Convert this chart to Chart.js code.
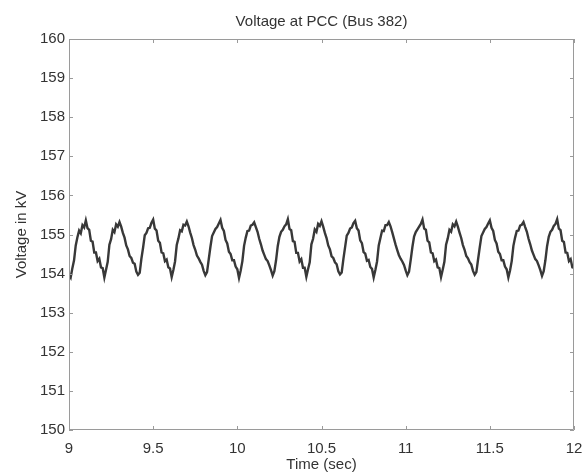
<!DOCTYPE html>
<html>
<head>
<meta charset="utf-8">
<script src="https://cdn.jsdelivr.net/npm/chart.js@4.4.1/dist/chart.umd.min.js"></script>
<style>
  html, body { margin: 0; padding: 0; background: #fff; }
  canvas { display: block; }
</style>
</head>
<body>
<canvas id="voltChart" width="583" height="472"></canvas>
<script>
const chartTitle = "Voltage at PCC (Bus 382)";
const xTitle = "Time (sec)";
const yTitle = "Voltage in kV";
const xTicks = [9, 9.5, 10, 10.5, 11, 11.5, 12];
const yTicks = [150, 151, 152, 153, 154, 155, 156, 157, 158, 159, 160];

// time in seconds, one row per cycle (peak to peak)
const time = [
  9.00, 9.01, 9.02, 9.03, 9.04, 9.05, 9.06, 9.07, 9.08, 9.09,
  9.10, 9.11, 9.12, 9.13, 9.14, 9.15, 9.16, 9.17, 9.18, 9.19, 9.20, 9.21, 9.22, 9.23, 9.24, 9.25, 9.26, 9.27, 9.28, 9.29,
  9.30, 9.31, 9.32, 9.33, 9.34, 9.35, 9.36, 9.37, 9.38, 9.39, 9.40, 9.41, 9.42, 9.43, 9.44, 9.45, 9.46, 9.47, 9.48, 9.49,
  9.50, 9.51, 9.52, 9.53, 9.54, 9.55, 9.56, 9.57, 9.58, 9.59, 9.60, 9.61, 9.62, 9.63, 9.64, 9.65, 9.66, 9.67, 9.68, 9.69,
  9.70, 9.71, 9.72, 9.73, 9.74, 9.75, 9.76, 9.77, 9.78, 9.79, 9.80, 9.81, 9.82, 9.83, 9.84, 9.85, 9.86, 9.87, 9.88, 9.89,
  9.90, 9.91, 9.92, 9.93, 9.94, 9.95, 9.96, 9.97, 9.98, 9.99, 10.00, 10.01, 10.02, 10.03, 10.04, 10.05, 10.06, 10.07, 10.08, 10.09,
  10.10, 10.11, 10.12, 10.13, 10.14, 10.15, 10.16, 10.17, 10.18, 10.19, 10.20, 10.21, 10.22, 10.23, 10.24, 10.25, 10.26, 10.27, 10.28, 10.29,
  10.30, 10.31, 10.32, 10.33, 10.34, 10.35, 10.36, 10.37, 10.38, 10.39, 10.40, 10.41, 10.42, 10.43, 10.44, 10.45, 10.46, 10.47, 10.48, 10.49,
  10.50, 10.51, 10.52, 10.53, 10.54, 10.55, 10.56, 10.57, 10.58, 10.59, 10.60, 10.61, 10.62, 10.63, 10.64, 10.65, 10.66, 10.67, 10.68, 10.69,
  10.70, 10.71, 10.72, 10.73, 10.74, 10.75, 10.76, 10.77, 10.78, 10.79, 10.80, 10.81, 10.82, 10.83, 10.84, 10.85, 10.86, 10.87, 10.88, 10.89,
  10.90, 10.91, 10.92, 10.93, 10.94, 10.95, 10.96, 10.97, 10.98, 10.99, 11.00, 11.01, 11.02, 11.03, 11.04, 11.05, 11.06, 11.07, 11.08, 11.09,
  11.10, 11.11, 11.12, 11.13, 11.14, 11.15, 11.16, 11.17, 11.18, 11.19, 11.20, 11.21, 11.22, 11.23, 11.24, 11.25, 11.26, 11.27, 11.28, 11.29,
  11.30, 11.31, 11.32, 11.33, 11.34, 11.35, 11.36, 11.37, 11.38, 11.39, 11.40, 11.41, 11.42, 11.43, 11.44, 11.45, 11.46, 11.47, 11.48, 11.49,
  11.50, 11.51, 11.52, 11.53, 11.54, 11.55, 11.56, 11.57, 11.58, 11.59, 11.60, 11.61, 11.62, 11.63, 11.64, 11.65, 11.66, 11.67, 11.68, 11.69,
  11.70, 11.71, 11.72, 11.73, 11.74, 11.75, 11.76, 11.77, 11.78, 11.79, 11.80, 11.81, 11.82, 11.83, 11.84, 11.85, 11.86, 11.87, 11.88, 11.89,
  11.90, 11.91, 11.92, 11.93, 11.94, 11.95, 11.96, 11.97, 11.98, 11.99, 12.00
];

// voltage in kV
const voltage = [
  153.98, 153.90, 154.14, 154.34, 154.72, 154.93, 155.10, 155.03, 155.24, 155.18,
  155.36, 155.16, 155.12, 154.84, 154.82, 154.54, 154.54, 154.32, 154.38, 154.16, 154.14, 153.90, 154.10, 154.30, 154.74, 154.88, 155.12, 155.06, 155.26, 155.20,
  155.32, 155.20, 155.04, 154.92, 154.72, 154.62, 154.45, 154.40, 154.28, 154.25, 154.05, 153.97, 154.02, 154.38, 154.66, 154.98, 155.04, 155.16, 155.17, 155.30,
  155.38, 155.15, 155.10, 154.84, 154.79, 154.54, 154.52, 154.32, 154.36, 154.16, 154.13, 153.91, 154.09, 154.31, 154.73, 154.90, 155.11, 155.08, 155.25, 155.23,
  155.33, 155.21, 155.05, 154.91, 154.73, 154.61, 154.46, 154.39, 154.30, 154.23, 154.07, 153.96, 154.04, 154.36, 154.68, 154.96, 155.05, 155.14, 155.19, 155.28,
  155.37, 155.17, 155.09, 154.86, 154.77, 154.56, 154.50, 154.34, 154.34, 154.18, 154.11, 153.89, 154.08, 154.32, 154.71, 154.92, 155.09, 155.10, 155.23, 155.25,
  155.31, 155.19, 155.07, 154.89, 154.75, 154.59, 154.48, 154.37, 154.32, 154.21, 154.09, 153.95, 154.06, 154.34, 154.70, 154.94, 155.07, 155.12, 155.21, 155.26,
  155.39, 155.14, 155.11, 154.83, 154.81, 154.53, 154.53, 154.31, 154.37, 154.15, 154.15, 153.92, 154.11, 154.29, 154.75, 154.89, 155.13, 155.07, 155.27, 155.22,
  155.34, 155.20, 155.04, 154.91, 154.72, 154.62, 154.44, 154.40, 154.29, 154.24, 154.06, 153.98, 154.03, 154.37, 154.67, 154.97, 155.04, 155.15, 155.18, 155.29,
  155.35, 155.16, 155.10, 154.85, 154.78, 154.55, 154.51, 154.33, 154.35, 154.17, 154.12, 153.90, 154.09, 154.31, 154.72, 154.91, 155.10, 155.09, 155.24, 155.24,
  155.32, 155.21, 155.06, 154.90, 154.74, 154.60, 154.47, 154.38, 154.31, 154.22, 154.08, 153.96, 154.05, 154.35, 154.68, 154.95, 155.06, 155.13, 155.20, 155.27,
  155.38, 155.15, 155.12, 154.84, 154.80, 154.54, 154.52, 154.32, 154.36, 154.16, 154.14, 153.91, 154.10, 154.30, 154.74, 154.90, 155.12, 155.07, 155.26, 155.21,
  155.33, 155.20, 155.05, 154.91, 154.73, 154.61, 154.45, 154.39, 154.29, 154.23, 154.07, 153.97, 154.04, 154.36, 154.67, 154.96, 155.05, 155.14, 155.19, 155.28,
  155.36, 155.17, 155.09, 154.86, 154.77, 154.56, 154.50, 154.34, 154.34, 154.18, 154.11, 153.90, 154.08, 154.32, 154.71, 154.92, 155.09, 155.10, 155.23, 155.25,
  155.32, 155.19, 155.07, 154.89, 154.75, 154.59, 154.48, 154.37, 154.32, 154.21, 154.09, 153.94, 154.06, 154.34, 154.70, 154.94, 155.07, 155.12, 155.22, 155.27,
  155.39, 155.15, 155.11, 154.84, 154.81, 154.54, 154.53, 154.32, 154.37, 154.16, 154.15
];

const textColor = "#333";
const boxColor = "#9a9a9a";
const fontFamily = "'Liberation Sans', Arial, Helvetica, sans-serif";

// matlab style box with inward ticks on all four sides
const matlabBox = {
  id: "matlabBox",
  afterDatasetsDraw(chart) {
    const { ctx, chartArea: a, scales: { x, y } } = chart;
    const len = 4;
    ctx.save();
    ctx.strokeStyle = boxColor;
    ctx.lineWidth = 1;
    ctx.beginPath();
    ctx.rect(Math.round(a.left) + 0.5, Math.round(a.top) + 0.5,
             Math.round(a.width) - 1, Math.round(a.height) - 1);
    xTicks.forEach(v => {
      const px = Math.round(x.getPixelForValue(v)) + 0.5;
      ctx.moveTo(px, a.bottom); ctx.lineTo(px, a.bottom - len);
      ctx.moveTo(px, a.top); ctx.lineTo(px, a.top + len);
    });
    yTicks.forEach(v => {
      const py = Math.round(y.getPixelForValue(v)) + 0.5;
      ctx.moveTo(a.left, py); ctx.lineTo(a.left + len, py);
      ctx.moveTo(a.right, py); ctx.lineTo(a.right - len, py);
    });
    ctx.stroke();
    ctx.restore();
  }
};

new Chart(document.getElementById("voltChart"), {
  type: "line",
  data: {
    datasets: [{
      data: time.map((t, i) => ({ x: t, y: voltage[i] })),
      borderColor: "#383838",
      borderWidth: 2.4,
      pointRadius: 0,
      tension: 0,
      fill: false
    }]
  },
  options: {
    responsive: false,
    animation: false,
    devicePixelRatio: 1,
    layout: { padding: { top: 0, right: 0, bottom: 0, left: 0 } },
    plugins: {
      legend: { display: false },
      tooltip: { enabled: false },
      title: {
        display: true,
        fullSize: false,
        text: chartTitle,
        color: textColor,
        font: { family: fontFamily, size: 15, weight: "normal", lineHeight: 1.2 },
        padding: { top: 13, bottom: 8 }
      }
    },
    scales: {
      x: {
        type: "linear",
        min: 9,
        max: 12,
        grid: { display: false, drawTicks: false },
        border: { display: false },
        afterBuildTicks: s => { s.ticks = xTicks.map(v => ({ value: v })); },
        afterFit: s => { s.height = 42; s.paddingLeft = 0; s.paddingRight = 9; },
        ticks: {
          color: textColor,
          padding: 10,
          maxRotation: 0,
          font: { family: fontFamily, size: 15 },
          callback: v => String(v)
        },
        title: {
          display: true,
          text: xTitle,
          color: textColor,
          font: { family: fontFamily, size: 15, lineHeight: 1 },
          padding: { top: 0, bottom: 0 }
        }
      },
      y: {
        min: 150,
        max: 160,
        grid: { display: false, drawTicks: false },
        border: { display: false },
        afterBuildTicks: s => { s.ticks = yTicks.map(v => ({ value: v })); },
        afterFit: s => { s.width = 69; s.paddingTop = 0; s.paddingBottom = 0; },
        ticks: {
          color: textColor,
          padding: 4,
          font: { family: fontFamily, size: 15 },
          callback: v => String(v)
        },
        title: {
          display: true,
          text: yTitle,
          color: textColor,
          font: { family: fontFamily, size: 15, lineHeight: 1 },
          padding: { top: 14.5, bottom: 0 }
        }
      }
    }
  },
  plugins: [matlabBox]
});
</script>
</body>
</html>
